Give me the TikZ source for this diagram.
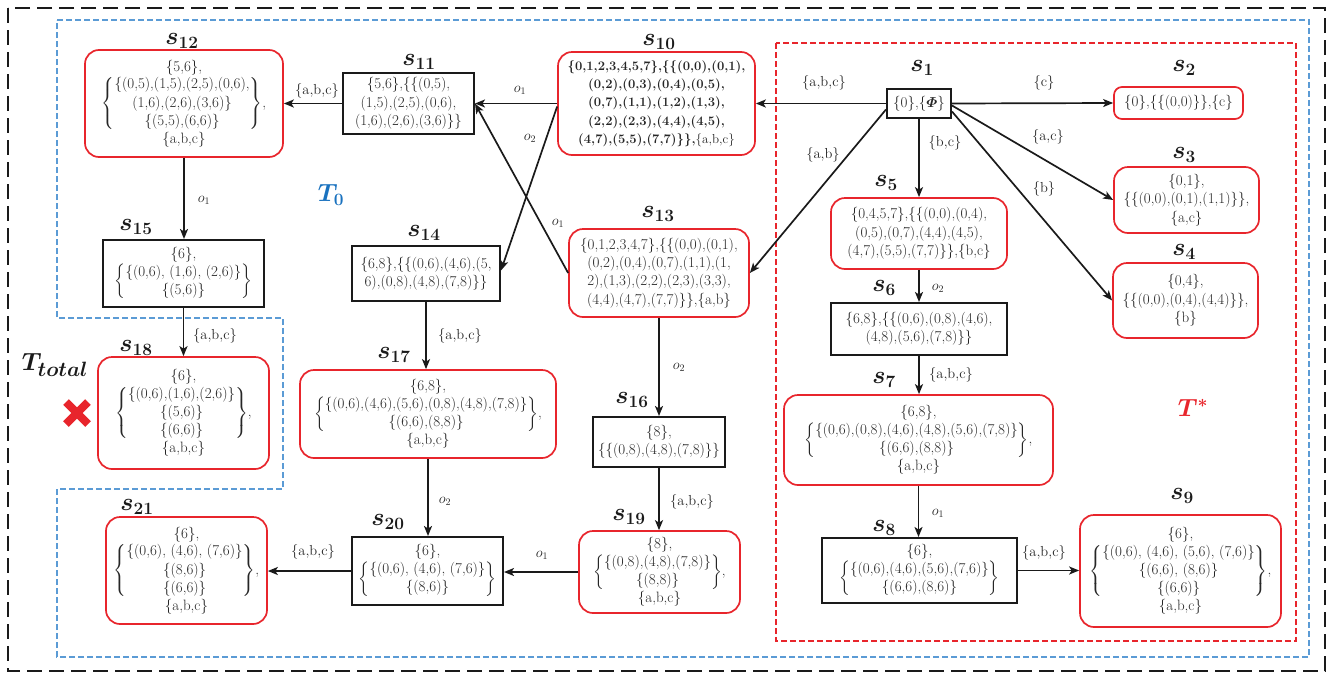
\documentclass[tikz,border=0pt]{standalone}
\usepackage{amsmath}
\usepackage{fontspec}
\usetikzlibrary{arrows.meta}
\definecolor{myred}{HTML}{E8252C}
\definecolor{myblue}{HTML}{5B9BD5}
\definecolor{tblue}{HTML}{1A72BF}
\definecolor{txt}{HTML}{262626}
\definecolor{dk}{HTML}{1A1A1A}
\newcommand{\bblock}[1]{$\left\{\begin{tabular}{@{}c@{}}#1\end{tabular}\right\}$}
\tikzset{
  base/.style={align=center, inner sep=1pt, text=txt, font=\fontsize{15}{18.3}\selectfont},
  rbox/.style={base, draw=myred, line width=1.7pt, rounded corners=14pt},
  kbox/.style={base, draw=dk, line width=2pt},
  slab/.style={font=\fontsize{23}{25}\selectfont, text=dk, inner sep=0pt},
  elab/.style={font=\fontsize{14.5}{16}\selectfont, text=txt, inner sep=0pt},
  tlab/.style={font=\fontsize{27}{30}\selectfont, inner sep=0pt},
  arr/.style={draw=dk, line width=1.7pt, -{Stealth[length=10pt,width=8pt,inset=2.5pt]}},
  frameblack/.style={draw=dk, line width=2.2pt, dash pattern=on 15pt off 7pt},
  frameblue/.style={draw=myblue, line width=2pt, dash pattern=on 6pt off 3pt},
  framered/.style={draw=myred, line width=1.8pt, dash pattern=on 6pt off 3pt},
}
\begin{document}
\begin{tikzpicture}[x=1pt,y=-1pt]
\useasboundingbox (0,0) rectangle (1330,675);
% frames
\draw[frameblack] (8,8) rectangle (1325,671);
\draw[frameblue] (57,20) -- (1309,20) -- (1309,657) -- (57,657) -- (57,489) -- (283,489) -- (283,318) -- (57,318) -- cycle;
\draw[framered] (776,43) rectangle (1296,641);

% nodes
\node[kbox,minimum width=64pt,minimum height=29pt] (s1) at (919,103.5) {\{0\},\{$\boldsymbol{\varPhi}$\}};
\node[rbox,rounded corners=8pt,minimum width=129pt,minimum height=32pt] (s2) at (1178.5,103) {\{0\},\{\{(0,0)\}\},\{c\}};
\node[rbox,minimum width=145pt,minimum height=66pt] (s3) at (1186.5,200) {\{0,1\},\\\{\{(0,0),(0,1),(1,1)\}\},\\\{a,c\}};
\node[rbox,minimum width=145pt,minimum height=75pt] (s4) at (1185.5,300.5) {\{0,4\},\\\{\{(0,0),(0,4),(4,4)\}\},\\\{b\}};
\node[rbox,minimum width=176pt,minimum height=71pt] (s5) at (919,233.5) {\{0,4,5,7\},\{\{(0,0),(0,4),\\(0,5),(0,7),(4,4),(4,5),\\(4,7),(5,5),(7,7)\}\},\{b,c\}};
\node[kbox,minimum width=176pt,minimum height=52pt] (s6) at (919,329) {\{6,8\},\{\{(0,6),(0,8),(4,6),\\(4,8),(5,6),(7,8)\}\}};
\node[rbox,minimum width=269pt,minimum height=90pt] (s7) at (918.5,440) {\{6,8\},\\\bblock{\{(0,6),(0,8),(4,6),(4,8),(5,6),(7,8)\}\\\{(6,6),(8,8)\}},\\\{a,b,c\}};
\node[kbox,minimum width=195pt,minimum height=65pt] (s8) at (919.5,570.5) {\{6\},\\\bblock{\{(0,6),(4,6),(5,6),(7,6)\}\\\{(6,6),(8,6)\}}};
\node[rbox,minimum width=201pt,minimum height=112pt] (s9) at (1180.5,571) {\{6\},\\\bblock{\{(0,6), (4,6), (5,6), (7,6)\}\\\{(6,6), (8,6)\}\\\{(6,6)\}},\\\{a,b,c\}};
\node[rbox,minimum width=197pt,minimum height=103pt,font=\fontsize{13}{18.3}\selectfont] (s10) at (656.5,103.5) {\bfseries\{0,1,2,3,4,5,7\},\{\{(0,0),(0,1),\\\bfseries(0,2),(0,3),(0,4),(0,5),\\\bfseries(0,7),(1,1),(1,2),(1,3),\\\bfseries(2,2),(2,3),(4,4),(4,5),\\\bfseries(4,7),(5,5),(7,7)\}\},\mdseries\{a,b,c\}};
\node[kbox,minimum width=131pt,minimum height=61pt] (s11) at (408.5,103.5) {\{5,6\},\{\{(0,5),\\(1,5),(2,5),(0,6),\\(1,6),(2,6),(3,6)\}\}};
\node[rbox,minimum width=198pt,minimum height=107pt] (s12) at (184,103.5) {\{5,6\},\\\bblock{\{(0,5),(1,5),(2,5),(0,6),\\(1,6),(2,6),(3,6)\}\\\{(5,5),(6,6)\}},\\\{a,b,c\}};
\node[rbox,minimum width=180pt,minimum height=88pt] (s13) at (659,273) {\{0,1,2,3,4,7\},\{\{(0,0),(0,1),\\(0,2),(0,4),(0,7),(1,1),(1,\\2),(1,3),(2,2),(2,3),(3,3),\\(4,4),(4,7),(7,7)\}\},\{a,b\}};
\node[kbox,minimum width=148pt,minimum height=55pt] (s14) at (426,273.5) {\{6,8\},\{\{(0,6),(4,6),(5,\\6),(0,8),(4,8),(7,8)\}\}};
\node[kbox,minimum width=161pt,minimum height=67pt] (s15) at (183.5,273.5) {\{6\},\\\bblock{\{(0,6), (1,6), (2,6)\}\\\{(5,6)\}}};
\node[kbox,minimum width=132pt,minimum height=50pt] (s16) at (659,442) {\{8\},\\\{\{(0,8),(4,8),(7,8)\}\}};
\node[rbox,minimum width=256pt,minimum height=88pt] (s17) at (428,414) {\{6,8\},\\\bblock{\{(0,6),(4,6),(5,6),(0,8),(4,8),(7,8)\}\\\{(6,6),(8,8)\}},\\\{a,b,c\}};
\node[rbox,minimum width=171pt,minimum height=112pt] (s18) at (183.5,413) {\{6\},\\\bblock{\{(0,6),(1,6),(2,6)\}\\\{(5,6)\}\\\{(6,6)\}},\\\{a,b,c\}};
\node[rbox,minimum width=161pt,minimum height=82pt] (s19) at (659.5,572) {\{8\},\\\bblock{\{(0,8),(4,8),(7,8)\}\\\{(8,8)\}},\\\{a,b,c\}};
\node[kbox,minimum width=151pt,minimum height=68pt] (s20) at (427.5,571) {\{6\},\\\bblock{\{(0,6), (4,6), (7,6)\}\\\{(8,6)\}}};
\node[rbox,minimum width=161pt,minimum height=107pt] (s21) at (186.5,570.5) {\{6\},\\\bblock{\{(0,6), (4,6), (7,6)\}\\\{(8,6)\}\\\{(6,6)\}},\\\{a,b,c\}};

% state labels
\node[slab] (ls1) at (922,68) {$\boldsymbol{s_{1}}$};
\node[slab] (ls2) at (1184,68) {$\boldsymbol{s_{2}}$};
\node[slab] (ls3) at (1184,155) {$\boldsymbol{s_{3}}$};
\node[slab] (ls4) at (1184,252) {$\boldsymbol{s_{4}}$};
\node[slab] (ls5) at (886,183) {$\boldsymbol{s_{5}}$};
\node[slab] (ls6) at (884,288) {$\boldsymbol{s_{6}}$};
\node[slab] (ls7) at (884,380) {$\boldsymbol{s_{7}}$};
\node[slab] (ls8) at (884,528) {$\boldsymbol{s_{8}}$};
\node[slab] (ls9) at (1182,496) {$\boldsymbol{s_{9}}$};
\node[slab] (ls10) at (659,42) {$\boldsymbol{s_{10}}$};
\node[slab] (ls11) at (419,62) {$\boldsymbol{s_{11}}$};
\node[slab] (ls12) at (182,41) {$\boldsymbol{s_{12}}$};
\node[slab] (ls13) at (658,214) {$\boldsymbol{s_{13}}$};
\node[slab] (ls14) at (424,233) {$\boldsymbol{s_{14}}$};
\node[slab] (ls15) at (136,227) {$\boldsymbol{s_{15}}$};
\node[slab] (ls16) at (632,400) {$\boldsymbol{s_{16}}$};
\node[slab] (ls17) at (394,355) {$\boldsymbol{s_{17}}$};
\node[slab] (ls18) at (136,348) {$\boldsymbol{s_{18}}$};
\node[slab] (ls19) at (629,517) {$\boldsymbol{s_{19}}$};
\node[slab] (ls20) at (388,522) {$\boldsymbol{s_{20}}$};
\node[slab] (ls21) at (137,507) {$\boldsymbol{s_{21}}$};

% region labels
\node[tlab,text=tblue] (t0) at (331,195) {$\boldsymbol{T_{0}}$};
\node[tlab,text=dk,font=\fontsize{30}{32}\selectfont] (ttot) at (55,365) {$\boldsymbol{T_{total}}$};
\node[tlab,text=myred] (tstar) at (1193,408) {$\boldsymbol{T^{*}}$};

% red cross
\draw[myred, line width=8pt] (66,402) -- (88,424) (66,424) -- (88,402);

% connectors
\draw[arr] (s1.west) -- (s10.east);
\draw[arr] (s1.east) -- (s2.west);
\draw[arr] ([yshift=-2pt]s1.east) -- (s3.west);
\draw[arr] ([yshift=-8pt]s1.east) -- (s4.west);
\draw[arr] (s1.south) -- (s1.south |- s5.north);
\draw[arr] ([yshift=-6pt]s1.west) -- (s13.east);
\draw[arr] (s5.south) -- (s5.south |- s6.north);
\draw[arr] (s6.south) -- (s6.south |- s7.north);
\draw[arr] (s7.south) -- (s7.south |- s8.north);
\draw[arr] (s8.east) -- (s8.east -| s9.west);
\draw[arr] (s10.west) -- (s11.east);
\draw[arr] ([yshift=-3pt]s10.west) -- ([yshift=3pt]s14.east);
\draw[arr] (s13.west) -- (s11.east);
\draw[arr] (s11.west) -- (s11.west -| s12.east);
\draw[arr] (s12.south) -- (s12.south |- s15.north);
\draw[arr] (s15.south) -- (s15.south |- s18.north);
\draw[arr] (s14.south) -- (s14.south |- s17.north);
\draw[arr] (s13.south) -- (s13.south |- s16.north);
\draw[arr] (s16.south) -- (s16.south |- s19.north);
\draw[arr] (s17.south) -- (s17.south |- s20.north);
\draw[arr] (s19.west) -- (s19.west -| s20.east);
\draw[arr] (s20.west) -- (s20.west -| s21.east);

% connector labels
\node[elab] (e1) at (824,83) {\{a,b,c\}};
\node[elab] (e2) at (1044,83) {\{c\}};
\node[elab] (e3) at (1048,137) {\{a,c\}};
\node[elab] (e4) at (1044,189) {\{b\}};
\node[elab] (e5) at (823,155) {\{a,b\}};
\node[elab] (e6) at (945,143) {\{b,c\}};
\node[elab] (e7) at (938,288) {$o_2$};
\node[elab] (e8) at (951,375) {\{a,b,c\}};
\node[elab] (e9) at (938,513) {$o_1$};
\node[elab] (e10) at (1044,553) {\{a,b,c\}};
\node[elab] (e11) at (520,90) {$o_1$};
\node[elab] (e12) at (530,138) {$o_2$};
\node[elab] (e13) at (558,223) {$o_1$};
\node[elab] (e14) at (317,91) {\{a,b,c\}};
\node[elab] (e15) at (204,200) {$o_1$};
\node[elab] (e16) at (215,336) {\{a,b,c\}};
\node[elab] (e17) at (460,336) {\{a,b,c\}};
\node[elab] (e18) at (679,367) {$o_2$};
\node[elab] (e19) at (692,502) {\{a,b,c\}};
\node[elab] (e20) at (445,501) {$o_2$};
\node[elab] (e21) at (542,555) {$o_1$};
\node[elab] (e22) at (313,552) {\{a,b,c\}};
\end{tikzpicture}
\end{document}
